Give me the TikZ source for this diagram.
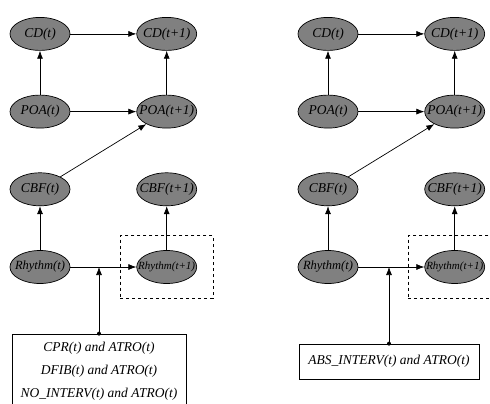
\documentclass[tikz,border=0pt]{standalone}
\usepackage{fontspec}
\setmainfont{Liberation Serif}
\usetikzlibrary{arrows.meta,positioning,shapes.geometric,fit}

\newcommand{\vname}[1]{\makebox[0pt][c]{#1}}

\begin{document}
\begin{tikzpicture}[
  x=1pt,y=1pt,
  node distance=44pt and 66pt,
  var/.style={ellipse,draw,line width=0.7pt,fill=gray,minimum width=60pt,minimum height=33pt,inner sep=0pt,font=\fontsize{13.5}{16}\selectfont\itshape},
  cond/.style={rectangle,draw,line width=0.7pt,fill=white,align=center,font=\fontsize{13.5}{23}\selectfont\itshape},
  slice/.style={draw,dashed,line width=0.7pt,inner xsep=16pt,inner ysep=14.5pt},
  arr/.style={-{Latex[length=8pt,width=6pt]},line width=0.7pt}
]
\useasboundingbox (0,0) rectangle (490,-404);
\clip (0,0) rectangle (490,-404);
% left network
\node[var] (rh) at (40,-267) {\vname{\fontsize{12.5}{15}\selectfont Rhythm(t)}};
\node[var,above=of rh] (cbf) {\vname{CBF(t)}};
\node[var,above=of cbf] (poa) {\vname{POA(t)}};
\node[var,above=of poa] (cd) {\vname{CD(t)}};
\node[var,right=of rh] (rhn) {\vname{\fontsize{11}{13}\selectfont Rhythm(t+1)}};
\node[var,right=of cbf] (cbfn) {\vname{CBF(t+1)}};
\node[var,right=of poa] (poan) {\vname{POA(t+1)}};
\node[var,right=of cd] (cdn) {\vname{CD(t+1)}};
\node[slice,fit=(rhn)] (sl) {};
\node[cond,minimum width=174pt,minimum height=74pt] (in) at (99,-371) {CPR(t) and ATRO(t)\\DFIB(t) and ATRO(t)\\NO\_INTERV(t) and ATRO(t)};
\coordinate (jn) at (in.north |- rh);
\draw[arr] (cd)--(cdn);
\draw[arr] (poa)--(poan);
\draw[arr] (rh)--(rhn);
\draw[arr] (poa)--(cd);
\draw[arr] (poan)--(cdn);
\draw[arr] (cbf)--(poan);
\draw[arr] (rh)--(cbf);
\draw[arr] (rhn)--(cbfn);
\draw[arr] (in.north)--(jn);
\fill (in.north) circle (2pt);
% right network
\node[var] (rh2) at (328,-267) {\vname{\fontsize{12.5}{15}\selectfont Rhythm(t)}};
\node[var,above=of rh2] (cbf2) {\vname{CBF(t)}};
\node[var,above=of cbf2] (poa2) {\vname{POA(t)}};
\node[var,above=of poa2] (cd2) {\vname{CD(t)}};
\node[var,right=of rh2] (rhn2) {\vname{\fontsize{11}{13}\selectfont Rhythm(t+1)}};
\node[var,right=of cbf2] (cbfn2) {\vname{CBF(t+1)}};
\node[var,right=of poa2] (poan2) {\vname{POA(t+1)}};
\node[var,right=of cd2] (cdn2) {\vname{CD(t+1)}};
\node[slice,fit=(rhn2)] (sl2) {};
\node[cond,minimum width=180pt,minimum height=35pt] (in2) at (389,-361.5) {ABS\_INTERV(t) and ATRO(t)};
\coordinate (jn2) at (in2.north |- rh2);
\draw[arr] (cd2)--(cdn2);
\draw[arr] (poa2)--(poan2);
\draw[arr] (rh2)--(rhn2);
\draw[arr] (poa2)--(cd2);
\draw[arr] (poan2)--(cdn2);
\draw[arr] (cbf2)--(poan2);
\draw[arr] (rh2)--(cbf2);
\draw[arr] (rhn2)--(cbfn2);
\draw[arr] (in2.north)--(jn2);
\fill (in2.north) circle (2pt);
\end{tikzpicture}
\end{document}
